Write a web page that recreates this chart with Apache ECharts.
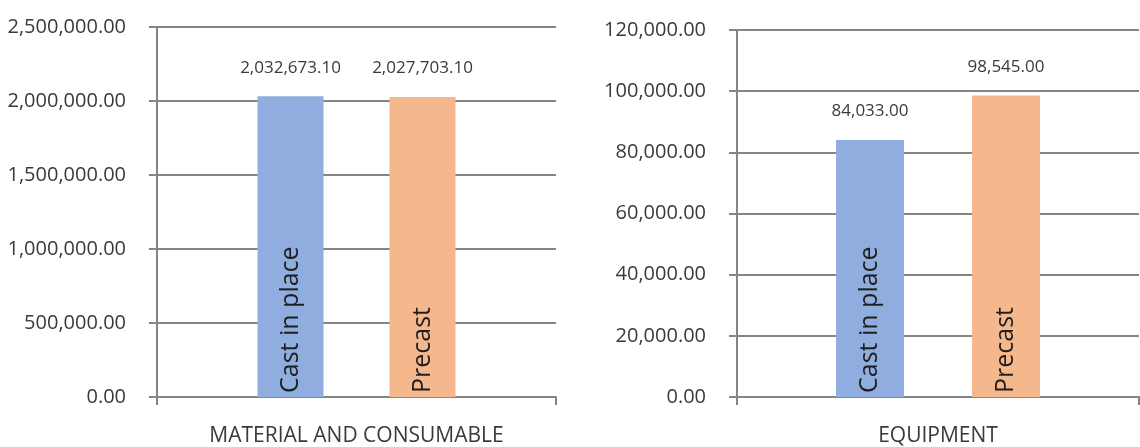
<!DOCTYPE html>
<html>
<head>
<meta charset="utf-8">
<script src="https://cdn.jsdelivr.net/npm/echarts@6/dist/echarts.min.js"></script>
<style>
  html, body { margin: 0; padding: 0; background: #ffffff; }
  #chart { width: 1140px; height: 447px; }
</style>
</head>
<body>
<div id="chart"></div>
<script>
// ---- data ----
const groupNames = ['MATERIAL AND CONSUMABLE', 'EQUIPMENT'];
const seriesNames = ['Cast in place', 'Precast'];
const castInPlace = [2032673.10, 84033.00];
const precast = [2027703.10, 98545.00];
const yMax = [2500000, 120000];
const yInterval = [500000, 20000];

// ---- style ----
const FONT = 'Open Sans';
const colors = ['#8fadde', '#f5b78c'];
const gridColor = '#858585';
const textColor = '#3a3a3a';

const fmt = v => Number(v).toLocaleString('en-US', { minimumFractionDigits: 2, maximumFractionDigits: 2 });

const grids = [
  { left: 157, right: 584, top: 27, bottom: 50 },
  { left: 737, right: 1, top: 30, bottom: 47 }
];
const barWidths = [66, 68];

const xAxes = [], yAxes = [], series = [];
grids.forEach((g, i) => {
  // visible category axis
  xAxes.push({
    type: 'category', gridIndex: i, data: [groupNames[i]],
    boundaryGap: true,
    axisLine: { show: true, lineStyle: { color: gridColor, width: 2 } },
    axisTick: { show: true, length: 8, lineStyle: { color: gridColor, width: 2 } },
    axisLabel: { margin: 29, fontFamily: FONT, fontSize: 21, color: textColor }
  });
  // hidden overlay axis for in-bar name labels
  xAxes.push({
    type: 'category', gridIndex: i, data: [groupNames[i]], show: false
  });
  yAxes.push({
    type: 'value', gridIndex: i, min: 0, max: yMax[i], interval: yInterval[i],
    axisLine: { show: true, lineStyle: { color: gridColor, width: 2 } },
    axisTick: { show: true, length: 8, lineStyle: { color: gridColor, width: 2 } },
    splitLine: { show: true, lineStyle: { color: gridColor, width: 2 } },
    axisLabel: { margin: 31, fontFamily: FONT, fontSize: 20, color: textColor, formatter: fmt }
  });
  const vals = [castInPlace[i], precast[i]];
  vals.forEach((v, k) => {
    series.push({
      name: seriesNames[k], type: 'bar', xAxisIndex: i * 2, yAxisIndex: i,
      data: [v], barWidth: barWidths[i], barGap: '100%',
      itemStyle: { color: colors[k] },
      label: {
        show: true, position: 'top', distance: 20,
        fontFamily: FONT, fontSize: 17, color: textColor,
        formatter: p => fmt(p.value)
      },
      silent: true, animation: false
    });
  });
  vals.forEach((v, k) => {
    series.push({
      name: seriesNames[k] + ' label', type: 'bar', xAxisIndex: i * 2 + 1, yAxisIndex: i,
      data: [v], barWidth: barWidths[i], barGap: '100%',
      itemStyle: { color: 'rgba(0,0,0,0)' },
      label: {
        show: true, position: 'insideBottom', distance: 4,
        rotate: 90, align: 'left', verticalAlign: 'middle',
        fontFamily: FONT, fontSize: 25, color: '#1e1e1e',
        formatter: () => seriesNames[k]
      },
      silent: true, animation: false, z: 5
    });
  });
});

const chart = echarts.init(document.getElementById('chart'), null, { renderer: 'canvas' });
chart.setOption({
  backgroundColor: '#ffffff',
  animation: false,
  grid: grids,
  xAxis: xAxes,
  yAxis: yAxes,
  series: series
});
</script>
</body>
</html>
